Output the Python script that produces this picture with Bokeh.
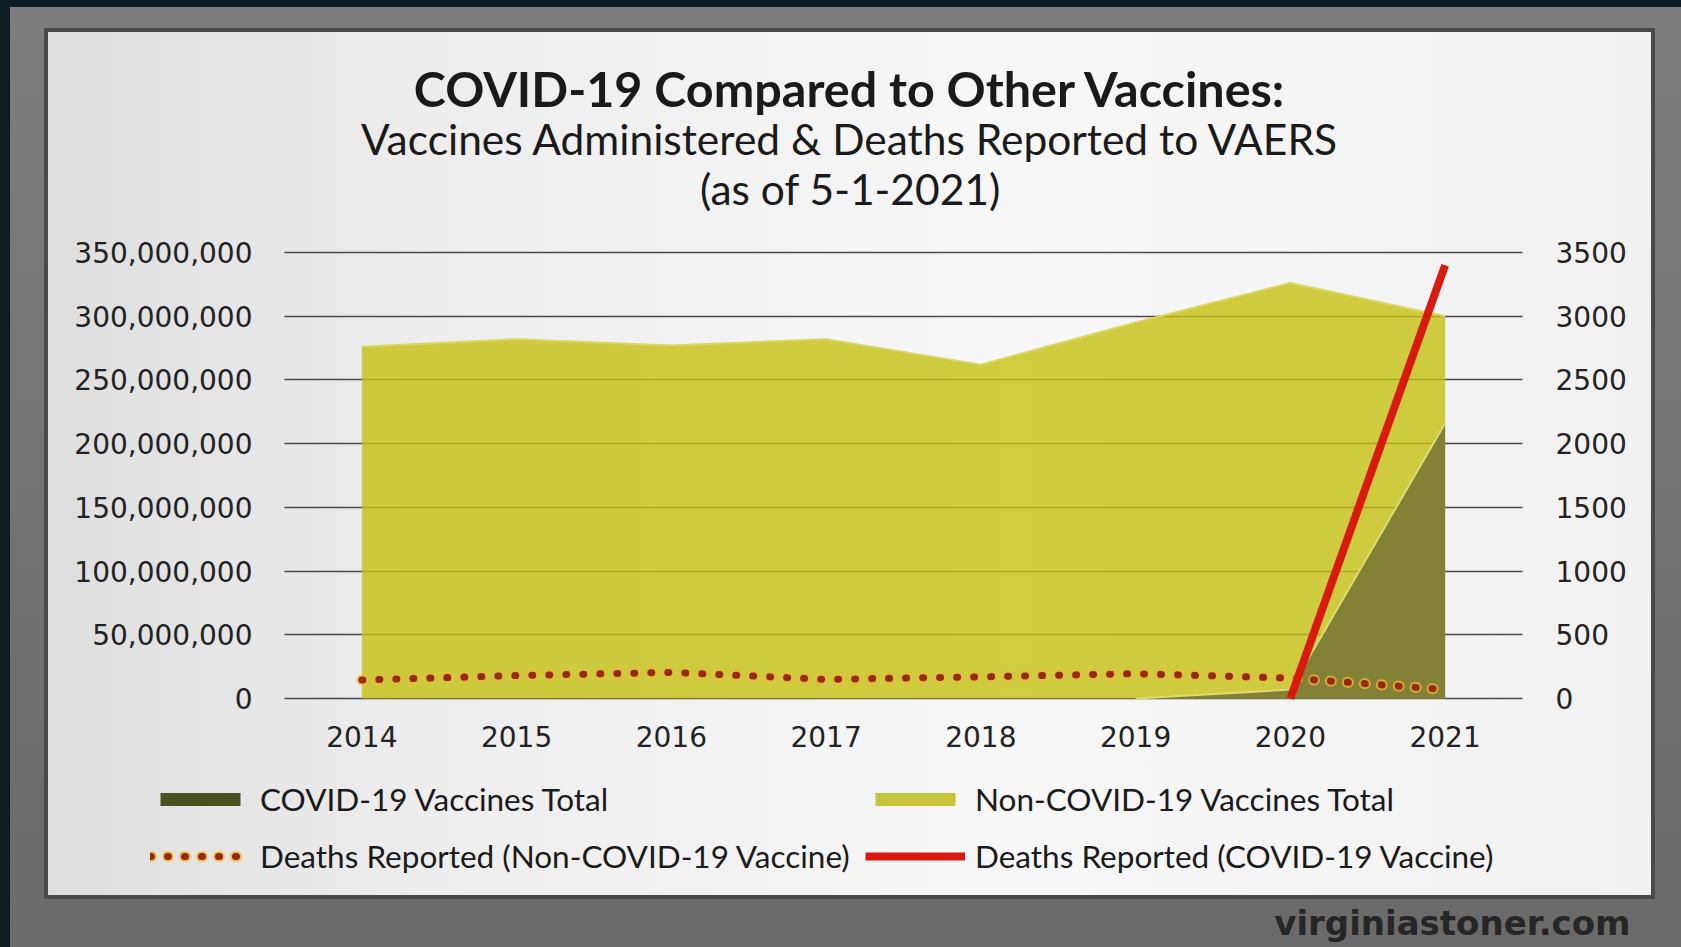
import math
from bokeh.plotting import figure
from bokeh.models import (Range1d, LinearAxis, FixedTicker, NumeralTickFormatter,
                          Label, Legend, LegendItem)
from bokeh.embed import file_html
from bokeh.resources import INLINE

nan = float("nan")

# ---------------- data ----------------
years = ["2014", "2015", "2016", "2017", "2018", "2019", "2020", "2021"]
non_covid_vaccines_total = [276e6, 282e6, 277e6, 282e6, 262e6, 295e6, 326e6, 300e6]
covid_vaccines_total = [nan, nan, nan, nan, nan, 0, 7e6, 216e6]
deaths_non_covid = [145, 180, 205, 150, 170, 195, 160, 70]
deaths_covid = [nan, nan, nan, nan, nan, nan, 0, 3400]
left_ticks = [0, 50e6, 100e6, 150e6, 200e6, 250e6, 300e6, 350e6]
right_ticks = [0, 500, 1000, 1500, 2000, 2500, 3000, 3500]

title_text = "COVID-19 Compared to Other Vaccines:"
subtitle_text = "Vaccines Administered & Deaths Reported to VAERS"
asof_text = "(as of 5-1-2021)"
watermark_text = "virginiastoner.com"

xs = list(range(len(years)))

# ---------------- geometry (page pixels) ----------------
W, H = 1681, 947
PL, PR, PT, PB = 284, 1522, 252, 698          # plot area inside the canvas
ppu = (PR - PL) / len(years)                  # pixels per category
mppx = (left_ticks[-1] - left_ticks[0]) / (PB - PT)
dppx = (right_ticks[-1] - right_ticks[0]) / (PB - PT)

x_range = Range1d(-0.5 - PL / ppu, len(years) - 0.5 + (W - PR) / ppu)
y_range = Range1d(left_ticks[0] - (H - PB) * mppx, left_ticks[-1] + PT * mppx)

def dx(fx):
    return -0.5 + (fx - PL) / ppu
def dy(fy):
    return (PB - fy) * mppx

p = figure(width=W, height=H, output_backend="svg", toolbar_location=None,
           x_range=x_range, y_range=y_range, title_location=None,
           min_border_left=0, min_border_right=0, min_border_top=0, min_border_bottom=0)
p.extra_y_ranges = {"deaths": Range1d(right_ticks[0] - (H - PB) * dppx,
                                      right_ticks[-1] + PT * dppx)}

p.outline_line_color = None
p.background_fill_alpha = 0
p.border_fill_alpha = 0
p.styles = {
    "background": (
        "linear-gradient(90deg, #dedede 0%, #eeeeee 25%, #f7f7f7 60%, #f1f1f1 100%) "
        "48px 32px / 1603px 863px no-repeat, "
        "linear-gradient(#4a4a4a, #4a4a4a) 44px 28px / 1611px 871px no-repeat, "
        "linear-gradient(180deg, #7d7d7d 0%, #6a6a6a 100%) 10px 7px / 1671px 940px no-repeat, "
        "#0e1b22"
    )
}

# ---------------- axes ----------------
tick_font = "DejaVu Sans"
xaxis = p.xaxis[0]
yaxis = p.yaxis[0]
xaxis.ticker = FixedTicker(ticks=xs)
xaxis.major_label_overrides = {i: y for i, y in enumerate(years)}
xaxis.fixed_location = left_ticks[0]
yaxis.ticker = FixedTicker(ticks=left_ticks)
yaxis.formatter = NumeralTickFormatter(format="0,0")
yaxis.fixed_location = -0.5
right_axis = LinearAxis(y_range_name="deaths", ticker=FixedTicker(ticks=right_ticks))
right_axis.fixed_location = len(years) - 0.5
p.add_layout(right_axis, "right")

for ax in [xaxis, yaxis, right_axis]:
    ax.axis_line_color = None
    ax.major_tick_line_color = None
    ax.minor_tick_line_color = None
    ax.major_tick_out = 0
    ax.major_tick_in = 0
    ax.major_label_text_font = tick_font
    ax.major_label_text_font_size = "28px"
    ax.major_label_text_color = "#222222"
yaxis.major_label_standoff = 32
right_axis.major_label_standoff = 33
xaxis.major_label_standoff = 27

grid_color = "#4a4a4a"
p.xgrid.visible = False
p.ygrid.ticker = FixedTicker(ticks=left_ticks)
p.ygrid.grid_line_color = grid_color
p.ygrid.grid_line_width = 1.6
try:
    p.ygrid.cross_bounds = (-0.5, len(years) - 0.5)
except AttributeError:
    p.ygrid.visible = False
    p.segment(x0=-0.5, x1=len(years) - 0.5, y0=left_ticks, y1=left_ticks,
              line_color=grid_color, line_width=1.6, level="underlay")

# ---------------- series ----------------
p.varea(x=xs, y1=0, y2=non_covid_vaccines_total, fill_color="#c4c010", fill_alpha=0.8)
p.line(xs, non_covid_vaccines_total, line_color="#d9d760", line_width=2)
p.varea(x=xs, y1=0, y2=covid_vaccines_total, fill_color="#7d7c35", fill_alpha=0.95)
p.line(xs, covid_vaccines_total, line_color="#dcdc70", line_width=2)

halo = p.line(xs, deaths_non_covid, y_range_name="deaths", line_color="#f0b838",
              line_width=11, line_dash="1 16", line_cap="round", line_alpha=0.75)
dots = p.line(xs, deaths_non_covid, y_range_name="deaths", line_color="#962a0c",
              line_width=7, line_dash="1 16", line_cap="round")
red = p.line(xs, deaths_covid, y_range_name="deaths", line_color="#d81a10", line_width=8)

# legend-only swatches (nothing drawn in the plot)
sw_dark = p.rect(x=[nan], y=[nan], width=1, height=1, fill_color="#4b5020", line_color=None)
sw_light = p.rect(x=[nan], y=[nan], width=1, height=1, fill_color="#c6c43a", line_color=None)

def make_legend(items, loc):
    return Legend(items=items, location=loc, orientation="vertical",
                  glyph_width=100, glyph_height=16, label_standoff=10,
                  spacing=17, padding=0, margin=0, label_height=40,
                  border_line_color=None, background_fill_alpha=0,
                  label_text_font="Lato", label_text_font_size="31.5px",
                  label_text_color="#1a1a1a")

leg_a = make_legend([LegendItem(label="COVID-19 Vaccines Total", renderers=[sw_dark]),
                     LegendItem(label="Deaths Reported (Non-COVID-19 Vaccine)", renderers=[halo, dots])],
                    (150, 71))
leg_b = make_legend([LegendItem(label="Non-COVID-19 Vaccines Total", renderers=[sw_light]),
                     LegendItem(label="Deaths Reported (COVID-19 Vaccine)", renderers=[red])],
                    (865, 71))
p.add_layout(leg_a, "center")
p.add_layout(leg_b, "center")

# ---------------- titles ----------------
p.add_layout(Label(x=dx(850), y=dy(87.5), text=title_text, text_align="center",
                   text_baseline="middle", text_font="Lato", text_font_style="bold",
                   text_font_size="48.5px", text_color="#1a1a1a"))
p.add_layout(Label(x=dx(850), y=dy(138), text=subtitle_text, text_align="center",
                   text_baseline="middle", text_font="Lato",
                   text_font_size="42.5px", text_color="#1a1a1a"))
p.add_layout(Label(x=dx(850), y=dy(187.5), text=asof_text, text_align="center",
                   text_baseline="middle", text_font="Lato",
                   text_font_size="42.5px", text_color="#1a1a1a"))
p.add_layout(Label(x=dx(1630), y=dy(922), text=watermark_text, text_align="right",
                   text_baseline="middle", text_font="DejaVu Sans", text_font_style="bold",
                   text_font_size="34px", text_color="#262626"))

open("out.html", "w").write(file_html(p, INLINE))
